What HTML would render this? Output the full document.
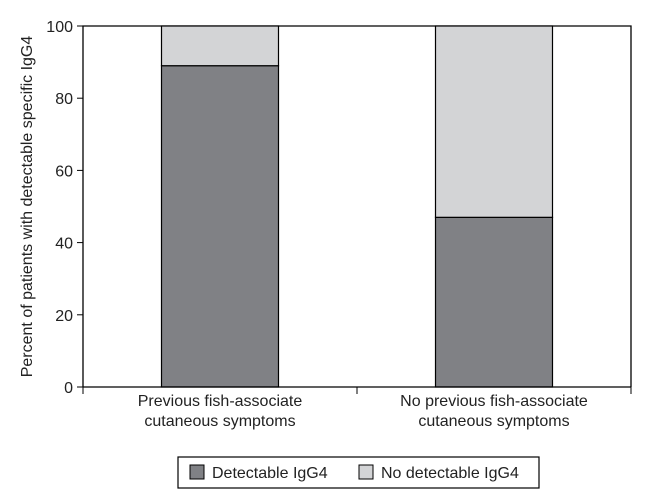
<!DOCTYPE html>
<html><head><meta charset="utf-8"><style>
html,body{margin:0;padding:0;background:#fff;}
svg{display:block;font-family:"Liberation Sans",sans-serif;}
</style></head><body>
<svg id="chart" width="645" height="501" viewBox="0 0 645 501">
<g id="plot"></g>
</svg>
<script>
const categories = [["Previous fish-associate","cutaneous symptoms"],["No previous fish-associate","cutaneous symptoms"]];
const detectable = [89, 47];
const notDetectable = [11, 53];
const yTicks = [0,20,40,60,80,100];
const NS="http://www.w3.org/2000/svg";
const g=document.getElementById('plot');
const L=83,R=631,T=26,B=387;
const y=v=>B-(v/100)*(B-T);
const bandW=(R-L)/categories.length;
const barW=117;
function el(t,a){const e=document.createElementNS(NS,t);for(const k in a)e.setAttribute(k,a[k]);g.appendChild(e);return e;}
let f=el('path',{d:`M${L},${B} L${L},${T} L${R},${T} L${R},${B}`,fill:'none',stroke:'#000','stroke-width':1.3});


categories.forEach((c,i)=>{
  const x0=L+bandW*i+bandW/2-barW/2;
  const d=el('rect',{x:x0,y:y(detectable[i]),width:barW,height:y(0)-y(detectable[i]),fill:'#808185',stroke:'#000','stroke-width':1.2});
  
  
  const n=el('rect',{x:x0,y:y(detectable[i]+notDetectable[i]),width:barW,height:y(detectable[i])-y(detectable[i]+notDetectable[i]),fill:'#d3d4d6',stroke:'#000','stroke-width':1.2});
  
  
  c.forEach((line,j)=>{
    const t=el('text',{x:x0+barW/2,y:406+j*20,'text-anchor':'middle','font-size':16,fill:'#222'});
    t.textContent=line;
    
    
  });
});
let xa=el('line',{x1:L,y1:B,x2:R,y2:B,stroke:'#000','stroke-width':1.3});


for(let i=0;i<=categories.length;i++){
  const tx=L+bandW*i;
  const tk=el('line',{x1:tx,y1:B,x2:tx,y2:B+7,stroke:'#000','stroke-width':1});
  
  
}
yTicks.forEach(v=>{
  const tk=el('line',{x1:L-6,y1:y(v),x2:L,y2:y(v),stroke:'#000','stroke-width':1});
  
  
  const t=el('text',{x:L-10,y:y(v)+6,'text-anchor':'end','font-size':16,fill:'#222'});
  t.textContent=v;
  
  
});
let yt=el('text',{x:0,y:0,transform:`translate(32,${(T+B)/2}) rotate(-90)`,'text-anchor':'middle','font-size':16,fill:'#222'});
yt.textContent='Percent of patients with detectable specific IgG4';


let lb=el('rect',{x:178,y:457,width:361,height:31,fill:'#fff',stroke:'#000','stroke-width':1.2});


[['#808185','Detectable IgG4',190],['#d3d4d6','No detectable IgG4',359]].forEach(([c,s,x])=>{
  const r=el('rect',{x:x,y:465,width:14,height:14,fill:c,stroke:'#000','stroke-width':1});
  
  
  const t=el('text',{x:x+22,y:478,'font-size':16,fill:'#222'});
  t.textContent=s;
  
  
});
</script>
</body></html>
